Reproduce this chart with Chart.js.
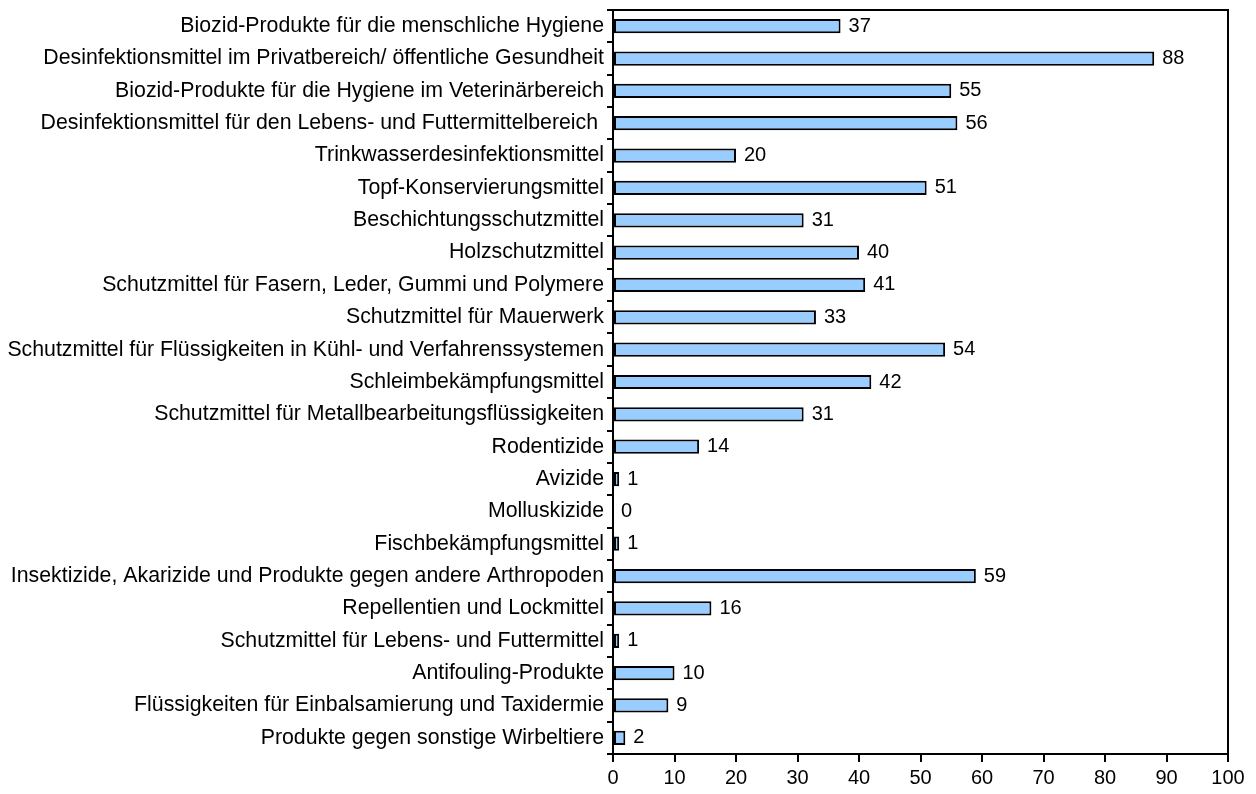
<!DOCTYPE html>
<html><head><meta charset="utf-8">
<script src="https://cdn.jsdelivr.net/npm/chart.js@4/dist/chart.umd.min.js"></script>
<style>html,body{margin:0;padding:0;background:#fff}</style>
</head><body>
<canvas id="c" width="1256" height="794"></canvas>
<script>
const categories = [
 "Biozid-Produkte für die menschliche Hygiene",
 "Desinfektionsmittel im Privatbereich/ öffentliche Gesundheit",
 "Biozid-Produkte für die Hygiene im Veterinärbereich",
 "Desinfektionsmittel für den Lebens- und Futtermittelbereich ",
 "Trinkwasserdesinfektionsmittel",
 "Topf-Konservierungsmittel",
 "Beschichtungsschutzmittel",
 "Holzschutzmittel",
 "Schutzmittel für Fasern, Leder, Gummi und Polymere",
 "Schutzmittel für Mauerwerk",
 "Schutzmittel für Flüssigkeiten in Kühl- und Verfahrenssystemen",
 "Schleimbekämpfungsmittel",
 "Schutzmittel für Metallbearbeitungsflüssigkeiten",
 "Rodentizide",
 "Avizide",
 "Molluskizide",
 "Fischbekämpfungsmittel",
 "Insektizide, Akarizide und Produkte gegen andere Arthropoden",
 "Repellentien und Lockmittel",
 "Schutzmittel für Lebens- und Futtermittel",
 "Antifouling-Produkte",
 "Flüssigkeiten für Einbalsamierung und Taxidermie",
 "Produkte gegen sonstige Wirbeltiere"
];
const values = [37, 88, 55, 56, 20, 51, 31, 40, 41, 33, 54, 42, 31, 14, 1, 0, 1, 59, 16, 1, 10, 9, 2];
const xTicks = [0, 10, 20, 30, 40, 50, 60, 70, 80, 90, 100];

const FONT = "Liberation Sans, Arial, sans-serif";

const frame = {
  id: 'frame',
  afterDatasetsDraw(chart) {
    const {ctx, chartArea: a} = chart;
    ctx.save();
    ctx.strokeStyle = '#000';
    ctx.lineWidth = 2;
    ctx.strokeRect(a.left, a.top, a.right - a.left, a.bottom - a.top);
    ctx.restore();
    const meta = chart.getDatasetMeta(0);
    ctx.save();
    ctx.font = "20px " + FONT;
    ctx.fillStyle = '#000';
    ctx.textBaseline = 'middle';
    ctx.textAlign = 'left';
    meta.data.forEach((bar, i) => {
      ctx.fillText(String(values[i]), bar.x + 8, bar.y);
    });
    ctx.restore();
  }
};

new Chart(document.getElementById('c'), {
  type: 'bar',
  data: {
    labels: categories,
    datasets: [{
      data: values,
      backgroundColor: '#99CCFF',
      borderColor: '#000',
      borderWidth: 2,
      borderSkipped: false,
      barPercentage: 0.44,
      categoryPercentage: 1.0
    }]
  },
  options: {
    indexAxis: 'y',
    responsive: false,
    animation: false,
    layout: { padding: { top: 10, right: 28, left: 0, bottom: 0 } },
    plugins: { legend: { display: false }, tooltip: { enabled: false } },
    scales: {
      x: {
        min: 0, max: 100,
        afterBuildTicks(scale) { scale.ticks = xTicks.map(v => ({value: v})); },
        afterFit(scale) { scale.height = 40; scale.paddingRight = 0; scale.paddingLeft = 0; },
        grid: { drawOnChartArea: false, color: '#000', tickLength: 8, lineWidth: 2 },
        border: { color: '#000', width: 2 },
        ticks: { color: '#000', font: { family: FONT, size: 20 }, padding: 4, maxRotation: 0 }
      },
      y: {
        afterFit(scale) { scale.width = 613; scale.paddingTop = 0; scale.paddingBottom = 0; },
        grid: { drawOnChartArea: false, color: '#000', tickLength: 6, lineWidth: 2, offset: true },
        border: { color: '#000', width: 2 },
        ticks: { color: '#000', font: { family: FONT, size: 21.3 }, padding: 3, autoSkip: false }
      }
    }
  },
  plugins: [frame]
});
</script>
</body></html>
